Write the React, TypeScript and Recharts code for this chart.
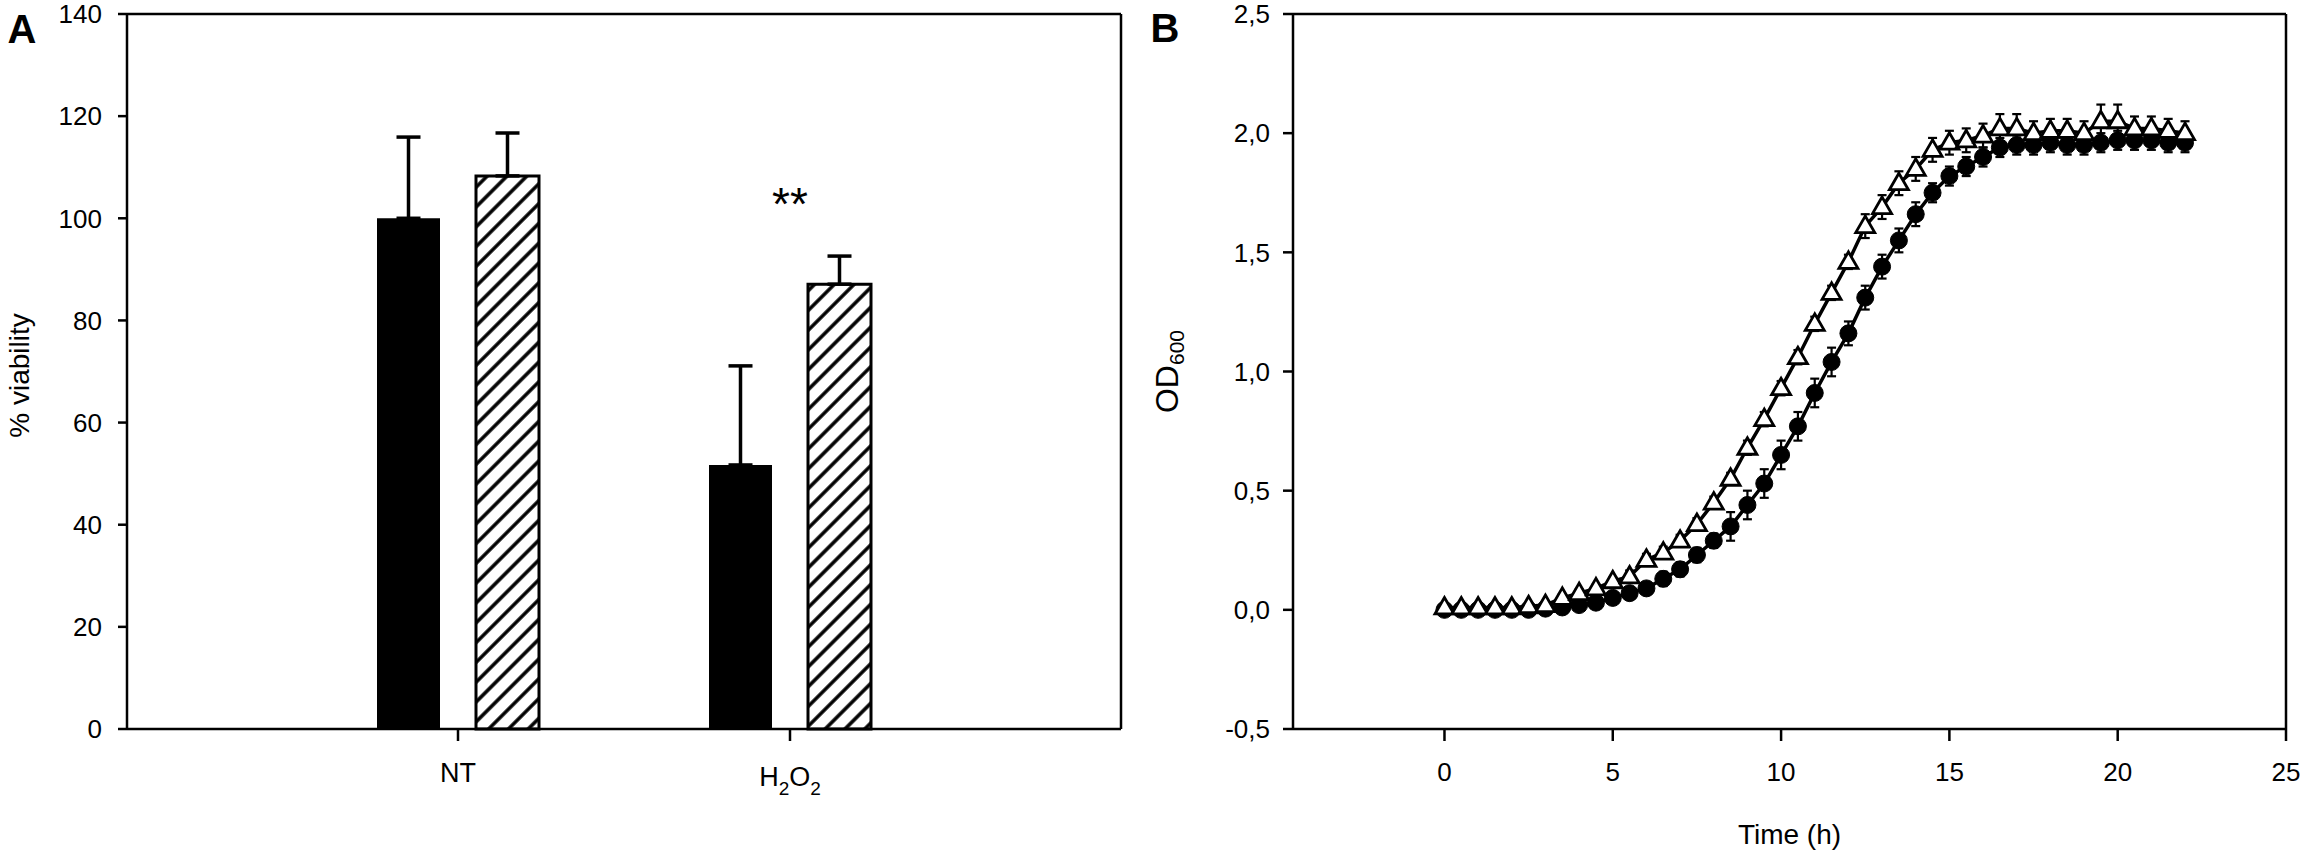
import React from 'react';
import { BarChart, Bar, XAxis, YAxis, ErrorBar, ReferenceDot, LineChart, Line, Label } from 'recharts';

const FONT = '"Liberation Sans", Arial, Helvetica, sans-serif';

// ---------- Panel A data ----------
const barCategories = ['NT', 'H2O2'];
const wtViability = [100, 51.7];
const wtViabilityErr = [15.9, 19.4];
const mutViability = [108.3, 87.1];
const mutViabilityErr = [8.4, 5.5];
const sigMarks = ['', '**'];
const yTicksA = [0, 20, 40, 60, 80, 100, 120, 140];

// ---------- Panel B data ----------
const timeH = [0, 0.5, 1, 1.5, 2, 2.5, 3, 3.5, 4, 4.5, 5, 5.5, 6, 6.5, 7, 7.5, 8, 8.5, 9, 9.5, 10, 10.5, 11, 11.5, 12, 12.5, 13, 13.5, 14, 14.5, 15, 15.5, 16, 16.5, 17, 17.5, 18, 18.5, 19, 19.5, 20, 20.5, 21, 21.5, 22];
const odTriangle = [0.01, 0.01, 0.01, 0.01, 0.01, 0.015, 0.02, 0.05, 0.07, 0.09, 0.12, 0.14, 0.21, 0.24, 0.29, 0.36, 0.45, 0.55, 0.68, 0.8, 0.93, 1.06, 1.2, 1.33, 1.46, 1.61, 1.69, 1.79, 1.85, 1.93, 1.96, 1.97, 1.99, 2.02, 2.02, 2.0, 2.01, 2.01, 2.0, 2.05, 2.05, 2.02, 2.02, 2.01, 2.0];
const odTriangleErr = [0.01, 0.01, 0.01, 0.01, 0.01, 0.01, 0.015, 0.015, 0.015, 0.015, 0.015, 0.025, 0.025, 0.025, 0.025, 0.025, 0.025, 0.025, 0.03, 0.03, 0.03, 0.03, 0.03, 0.03, 0.03, 0.05, 0.05, 0.05, 0.05, 0.05, 0.05, 0.05, 0.05, 0.06, 0.06, 0.05, 0.05, 0.05, 0.05, 0.07, 0.07, 0.05, 0.05, 0.05, 0.05];
const odCircle = [0, 0, 0, 0, 0, 0, 0.005, 0.01, 0.02, 0.03, 0.05, 0.07, 0.09, 0.13, 0.17, 0.23, 0.29, 0.35, 0.44, 0.53, 0.65, 0.77, 0.91, 1.04, 1.16, 1.31, 1.44, 1.55, 1.66, 1.75, 1.82, 1.86, 1.9, 1.94, 1.95, 1.95, 1.96, 1.95, 1.95, 1.96, 1.97, 1.97, 1.97, 1.96, 1.96];
const odCircleErr = [0.01, 0.01, 0.01, 0.01, 0.01, 0.01, 0.01, 0.01, 0.01, 0.015, 0.015, 0.015, 0.015, 0.03, 0.03, 0.03, 0.03, 0.06, 0.06, 0.06, 0.06, 0.06, 0.06, 0.06, 0.05, 0.05, 0.05, 0.05, 0.05, 0.04, 0.04, 0.04, 0.04, 0.04, 0.04, 0.04, 0.04, 0.04, 0.04, 0.04, 0.04, 0.04, 0.04, 0.04, 0.04];
const xTicksB = [0, 5, 10, 15, 20, 25];
const yTicksB = [-0.5, 0, 0.5, 1, 1.5, 2, 2.5];

const barData = barCategories.map((c, i) => ({
  cat: c,
  wt: wtViability[i],
  wtErr: [0, wtViabilityErr[i]],
  mut: mutViability[i],
  mutErr: [0, mutViabilityErr[i]],
  sig: sigMarks[i],
  top: Math.max(wtViability[i] + wtViabilityErr[i], mutViability[i] + mutViabilityErr[i]),
}));

const growthData = timeH.map((t, i) => ({
  t,
  tri: odTriangle[i],
  triErr: odTriangleErr[i],
  circ: odCircle[i],
  circErr: odCircleErr[i],
}));

const axisStyle = { stroke: '#000', strokeWidth: 2.5 };
const tickStyle = { fill: '#000', fontSize: 26, fontFamily: FONT };

const CategoryTick = (props: any) => {
  const { x, y, payload } = props;
  const v = payload.value;
  if (v === 'H2O2') {
    return (
      <text x={x} y={y + 4} dy="0.71em" textAnchor="middle" fill="#000" fontSize={27} fontFamily={FONT}>
        <tspan>H</tspan>
        <tspan dy={9} fontSize={19}>2</tspan>
        <tspan dy={-9}>O</tspan>
        <tspan dy={9} fontSize={19}>2</tspan>
      </text>
    );
  }
  return (
    <text x={x} y={y} dy="0.71em" textAnchor="middle" fill="#000" fontSize={27} fontFamily={FONT}>
      {v}
    </text>
  );
};

const TriangleDot = (props: any) => {
  const { cx, cy, index } = props;
  if (cx == null || cy == null) return <g key={`tri-${index}`} />;
  const d = `M${cx},${cy - 10} L${cx - 9.5},${cy + 6.5} L${cx + 9.5},${cy + 6.5} Z`;
  return <path key={`tri-${index}`} d={d} fill="#fff" stroke="#000" strokeWidth={2.8} strokeLinejoin="miter" />;
};

const CircleDot = (props: any) => {
  const { cx, cy, index } = props;
  if (cx == null || cy == null) return <g key={`circ-${index}`} />;
  return <circle key={`circ-${index}`} cx={cx} cy={cy} r={8.5} fill="#000" stroke="#000" strokeWidth={1} />;
};

const YLabelA = (props: any) => {
  const vb = props.viewBox || { x: 0, y: 14, width: 127, height: 715 };
  const cx = vb.x + 19;
  const cy = vb.y + vb.height / 2 + 4;
  return (
    <text x={cx} y={cy} transform={`rotate(-90, ${cx}, ${cy})`} textAnchor="middle" dominantBaseline="central" fill="#000" fontSize={28} fontFamily={FONT}>
      % viability
    </text>
  );
};

const YLabelB = (props: any) => {
  const vb = props.viewBox || { x: 0, y: 14, width: 143, height: 715 };
  const cx = vb.x + 17;
  const cy = vb.y + vb.height / 2;
  return (
    <text x={cx} y={cy} transform={`rotate(-90, ${cx}, ${cy})`} textAnchor="middle" dominantBaseline="central" fill="#000" fontSize={32} fontFamily={FONT}>
      <tspan>OD</tspan>
      <tspan dy={9} fontSize={21}>600</tspan>
    </text>
  );
};

const XLabelB = (props: any) => {
  const vb = props.viewBox || { x: 143, y: 729, width: 993, height: 126 };
  return (
    <text x={vb.x + vb.width / 2} y={vb.y + 115} textAnchor="middle" fill="#000" fontSize={28} fontFamily={FONT}>
      Time (h)
    </text>
  );
};

const SigShape = (label: string) => (props: any) => {
  const { cx, cy } = props;
  return (
    <text x={cx} y={cy} textAnchor="middle" fill="#000" fontSize={46} fontFamily={FONT}>
      {label}
    </text>
  );
};

export default function App() {
  return (
    <div style={{ position: 'absolute', left: 0, top: 0, width: 2305, height: 855, background: '#fff', fontFamily: FONT }}>
      <svg width={0} height={0} style={{ position: 'absolute' }}>
        <defs>
          <pattern id="hatch" patternUnits="userSpaceOnUse" width={14} height={14} patternTransform="rotate(45)">
            <rect x={0} y={0} width={14} height={14} fill="#fff" />
            <line x1={7} y1={-1} x2={7} y2={15} stroke="#000" strokeWidth={3.5} />
          </pattern>
        </defs>
      </svg>

      <div style={{ position: 'absolute', left: 0, top: 0 }}>
        <BarChart width={1150} height={855} data={barData} margin={{ top: 0, right: 0, bottom: 0, left: 0 }} barGap={36} barCategoryGap={0}>
          <XAxis
            dataKey="cat"
            type="category"
            padding={{ left: 165, right: 165 }}
            height={126}
            axisLine={axisStyle}
            tickLine={axisStyle}
            tickSize={12}
            tickMargin={22}
            tick={<CategoryTick />}
            interval={0}
          />
          <XAxis xAxisId="top" orientation="top" dataKey="cat" height={14} tick={false} tickLine={false} axisLine={axisStyle} />
          <YAxis
            domain={[0, 140]}
            ticks={yTicksA}
            width={127}
            axisLine={axisStyle}
            tickLine={axisStyle}
            tickSize={9}
            tickMargin={16}
            tick={tickStyle}
            interval={0}
            label={<Label content={<YLabelA />} />}
          />
          <YAxis yAxisId="right" orientation="right" domain={[0, 140]} width={29} tick={false} tickLine={false} axisLine={axisStyle} />
          <Bar dataKey="wt" fill="#000" barSize={63} isAnimationActive={false}>
            <ErrorBar dataKey="wtErr" width={12} strokeWidth={3.5} stroke="#000" />
          </Bar>
          <Bar dataKey="mut" fill="url(#hatch)" stroke="#000" strokeWidth={3} barSize={63} isAnimationActive={false}>
            <ErrorBar dataKey="mutErr" width={12} strokeWidth={3.5} stroke="#000" />
          </Bar>
          {barData
            .filter((d) => d.sig)
            .map((d) => (
              <ReferenceDot key={d.cat} x={d.cat} y={d.top + 7} r={1} shape={SigShape(d.sig)} />
            ))}
        </BarChart>
      </div>

      <div style={{ position: 'absolute', left: 1150, top: 0 }}>
        <LineChart width={1155} height={855} data={growthData} margin={{ top: 0, right: 0, bottom: 0, left: 0 }}>
          <XAxis
            dataKey="t"
            type="number"
            domain={[-4.5, 25]}
            ticks={xTicksB}
            height={126}
            axisLine={axisStyle}
            tickLine={axisStyle}
            tickSize={12}
            tickMargin={22}
            tick={tickStyle}
            interval={0}
            label={<Label content={<XLabelB />} />}
          />
          <XAxis xAxisId="top" orientation="top" type="number" dataKey="t" domain={[-4.5, 25]} height={14} tick={false} tickLine={false} axisLine={axisStyle} />
          <YAxis
            domain={[-0.5, 2.5]}
            ticks={yTicksB}
            width={143}
            axisLine={axisStyle}
            tickLine={axisStyle}
            tickSize={10}
            tickMargin={13}
            tick={tickStyle}
            interval={0}
            tickFormatter={(v: number) => v.toFixed(1).replace('.', ',')}
            label={<Label content={<YLabelB />} />}
          />
          <YAxis yAxisId="right" orientation="right" domain={[-0.5, 2.5]} width={19} tick={false} tickLine={false} axisLine={axisStyle} />
          <Line dataKey="circ" type="linear" stroke="#000" strokeWidth={3.5} dot={CircleDot} activeDot={false} isAnimationActive={false}>
            <ErrorBar dataKey="circErr" direction="y" width={4.5} strokeWidth={2.2} stroke="#000" />
          </Line>
          <Line dataKey="tri" type="linear" stroke="#000" strokeWidth={3.5} dot={TriangleDot} activeDot={false} isAnimationActive={false}>
            <ErrorBar dataKey="triErr" direction="y" width={4.5} strokeWidth={2.2} stroke="#000" />
          </Line>
        </LineChart>
      </div>

      <svg width={2305} height={855} style={{ position: 'absolute', left: 0, top: 0, pointerEvents: 'none' }}>
        <text x={22} y={43} textAnchor="middle" fontSize={40} fontWeight="bold" fontFamily={FONT} fill="#000">A</text>
        <text x={1165} y={42} textAnchor="middle" fontSize={40} fontWeight="bold" fontFamily={FONT} fill="#000">B</text>
      </svg>
    </div>
  );
}
